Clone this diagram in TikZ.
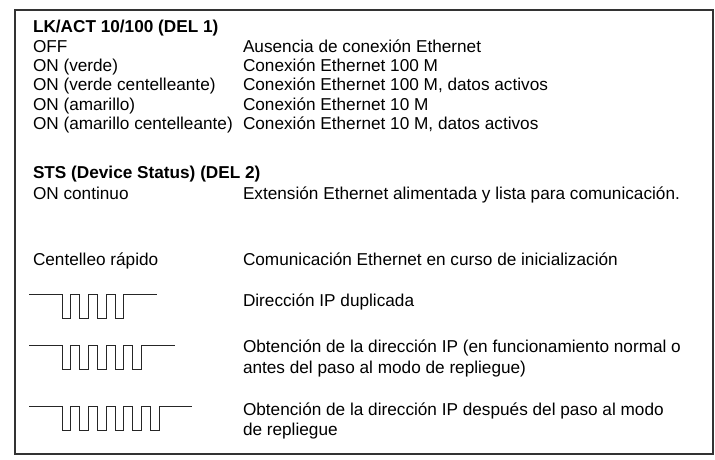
\documentclass[tikz,border=0pt]{standalone}
\usepackage{fontspec}
\setmainfont{Liberation Sans}
\begin{document}
\begin{tikzpicture}[x=1pt,y=-1pt,
  txt/.style={anchor=base west,inner sep=0pt,outer sep=0pt,font=\fontsize{17.2}{20.3}\selectfont},
  head/.style={txt,font=\fontsize{17.2}{20.3}\selectfont\bfseries},
  frame/.style={draw=black!80,line width=1.1pt},
  wave/.style={draw=black!85,line width=1pt}]
\useasboundingbox (0,0) rectangle (715,459);
\draw[frame] (15,10) rectangle (713,454);
% section 1
\node[head] (h1) at (33,32) {LK/ACT 10/100 (DEL 1)};
\node[txt] (l1) at (33,52.5) {OFF};
\node[txt] (r1) at (243,52.5) {Ausencia de conexión Ethernet};
\node[txt] (l2) at (33,71.7) {ON (verde)};
\node[txt] (r2) at (243,71.7) {Conexión Ethernet 100 M};
\node[txt] (l3) at (33,90.9) {ON (verde centelleante)};
\node[txt] (r3) at (243,90.9) {Conexión Ethernet 100 M, datos activos};
\node[txt] (l4) at (33,110.1) {ON (amarillo)};
\node[txt] (r4) at (243,110.1) {Conexión Ethernet 10 M};
\node[txt] (l5) at (33,129.3) {ON (amarillo centelleante)};
\node[txt] (r5) at (243,129.3) {Conexión Ethernet 10 M, datos activos};
% section 2
\node[head] (h2) at (33,178) {STS (Device Status) (DEL 2)};
\node[txt] (s1) at (33,199) {ON continuo};
\node[txt] (t1) at (243,199) {Extensión Ethernet alimentada y lista para comunicación.};
\node[txt] (s2) at (33,265) {Centelleo rápido};
\node[txt] (t2) at (243,265) {Comunicación Ethernet en curso de inicialización};
\node[txt] (t3) at (243,306.5) {Dirección IP duplicada};
\node[txt] (t4a) at (243,352.7) {Obtención de la dirección IP (en funcionamiento normal o};
\node[txt] (t4b) at (243,373) {antes del paso al modo de repliegue)};
\node[txt] (t5a) at (243,415) {Obtención de la dirección IP después del paso al modo};
\node[txt] (t5b) at (243,435) {de repliegue};
% waveforms
\draw[wave] (29,294.3) -- (62,294.3) \foreach \k in {1,...,4}{ -- ++(0,24) -- ++(8.7,0) -- ++(0,-24) -- ++(9,0)} -- ++(24,0);
\draw[wave] (29,345.7) -- (62,345.7) \foreach \k in {1,...,5}{ -- ++(0,24) -- ++(8.7,0) -- ++(0,-24) -- ++(9,0)} -- ++(24,0);
\draw[wave] (29,406.7) -- (62,406.7) \foreach \k in {1,...,6}{ -- ++(0,24) -- ++(8.7,0) -- ++(0,-24) -- ++(9,0)} -- ++(24,0);
\end{tikzpicture}
\end{document}
